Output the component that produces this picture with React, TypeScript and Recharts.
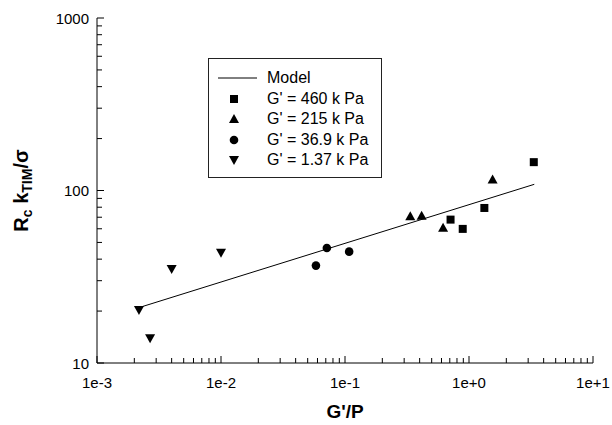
import React from 'react';
import { ScatterChart, Scatter, XAxis, YAxis, Legend, Label } from 'recharts';

// model curve end points
const modelX = [0.0023, 3.36];
const modelY = [21.2, 108.6];

// measured points, one pair of arrays per storage modulus
const g460X = [0.71, 0.89, 1.33, 3.33];
const g460Y = [67.8, 59.9, 79.2, 146];
const g215X = [0.336, 0.415, 0.618, 1.55];
const g215Y = [70.9, 71.3, 60.8, 115.7];
const g369X = [0.0583, 0.0714, 0.108];
const g369Y = [36.7, 46.4, 44.2];
const g137X = [0.00218, 0.00268, 0.004, 0.01];
const g137Y = [20.3, 13.9, 35.1, 43.6];

const seriesNames = ['Model', "G' = 460 k Pa", "G' = 215 k Pa", "G' = 36.9 k Pa", "G' = 1.37 k Pa"];

const xMajor = [0.001, 0.01, 0.1, 1, 10];
const xLabels = ['1e-3', '1e-2', '1e-1', '1e+0', '1e+1'];
const yMajor = [10, 100, 1000];
const yLabels = ['10', '100', '1000'];
const minorSteps = [2, 3, 4, 5, 6, 7, 8, 9];

const xTicks = [...xMajor, ...xMajor.slice(0, -1).flatMap((d) => minorSteps.map((m) => d * m))];
const yTicks = [...yMajor, ...yMajor.slice(0, -1).flatMap((d) => minorSteps.map((m) => d * m))];

const toPoints = (xs: number[], ys: number[]) => xs.map((x, i) => ({ x, y: ys[i] }));

const FONT = 'Arial, "Liberation Sans", sans-serif';
const MAJOR_LEN = 7;
const MINOR_LEN = 5;

const majorIndex = (list: number[], v: number) => list.findIndex((m) => Math.abs(m - v) / m < 1e-6);

const BottomTick = ({ x, y, payload }: any) => {
  const i = majorIndex(xMajor, payload.value);
  return (
    <g>
      <line x1={x} x2={x} y1={y} y2={y - (i >= 0 ? MAJOR_LEN : MINOR_LEN)} stroke="#000" />
      {i >= 0 && (
        <text x={x} y={y + 25} textAnchor="middle" fontSize={15} fontFamily={FONT} fill="#000">
          {xLabels[i]}
        </text>
      )}
    </g>
  );
};

const TopTick = ({ x, y, payload }: any) => {
  const i = majorIndex(xMajor, payload.value);
  return <line x1={x} x2={x} y1={y} y2={y + (i >= 0 ? MAJOR_LEN : MINOR_LEN)} stroke="#000" />;
};

const LeftTick = ({ x, y, payload }: any) => {
  const i = majorIndex(yMajor, payload.value);
  return (
    <g>
      <line x1={x} x2={x + (i >= 0 ? MAJOR_LEN : MINOR_LEN)} y1={y} y2={y} stroke="#000" />
      {i >= 0 && (
        <text x={x - 8} y={y + 5.5} textAnchor="end" fontSize={15} fontFamily={FONT} fill="#000">
          {yLabels[i]}
        </text>
      )}
    </g>
  );
};

const RightTick = ({ x, y, payload }: any) => {
  const i = majorIndex(yMajor, payload.value);
  return <line x1={x} x2={x - (i >= 0 ? MAJOR_LEN : MINOR_LEN)} y1={y} y2={y} stroke="#000" />;
};

const Square = ({ cx, cy }: any) => <rect x={cx - 4} y={cy - 4} width={8} height={8} fill="#000" />;
const Dot = ({ cx, cy }: any) => <circle cx={cx} cy={cy} r={4.3} fill="#000" />;
const TriUp = ({ cx, cy }: any) => (
  <path d={`M${cx},${cy - 5} L${cx + 5},${cy + 4} L${cx - 5},${cy + 4} Z`} fill="#000" />
);
const TriDown = ({ cx, cy }: any) => (
  <path d={`M${cx - 5},${cy - 4} L${cx + 5},${cy - 4} L${cx},${cy + 5} Z`} fill="#000" />
);
const NoShape = () => <g />;

const legendIcons = [
  <line x1={0} x2={39} y1={7} y2={7} stroke="#000" />,
  <Square cx={16} cy={7} />,
  <TriUp cx={16} cy={7} />,
  <Dot cx={16} cy={7} />,
  <TriDown cx={16} cy={7} />,
];

const LegendBox = () => (
  <div
    style={{
      width: 174,
      height: 120,
      boxSizing: 'border-box',
      border: '1px solid #222',
      background: '#fff',
      paddingTop: 9,
      fontFamily: FONT,
      fontSize: 16,
      color: '#000',
    }}
  >
    {seriesNames.map((name, i) => (
      <div key={name} style={{ display: 'flex', alignItems: 'center', height: 20.5 }}>
        <svg width={39} height={14} style={{ marginLeft: 9, marginRight: 10 }}>
          {legendIcons[i]}
        </svg>
        <span>{name}</span>
      </div>
    ))}
  </div>
);

const YTitle = ({ viewBox }: any) => {
  const cx = viewBox.x + 28;
  const cy = viewBox.y + viewBox.height / 2;
  return (
    <text
      x={cx}
      y={cy}
      transform={`rotate(-90, ${cx}, ${cy})`}
      textAnchor="middle"
      fontFamily={FONT}
      fontWeight="bold"
      fontSize={20}
      fill="#000"
    >
      <tspan>R</tspan>
      <tspan fontSize={14} dy={4}>c</tspan>
      <tspan dy={-4}> k</tspan>
      <tspan fontSize={14} dy={4}>TIM</tspan>
      <tspan dy={-4}>/σ</tspan>
    </text>
  );
};

export default function App() {
  const axisCommon = {
    type: 'number' as const,
    scale: 'log' as const,
    allowDataOverflow: true,
    tickLine: false,
    tickSize: 0,
    tickMargin: 0,
    interval: 0 as const,
    axisLine: { stroke: '#000' },
  };

  return (
    <div style={{ position: 'absolute', left: 0, top: 0, background: '#fff' }}>
      <ScatterChart width={612} height={425} margin={{ top: 18, right: 19, bottom: 0, left: 0 }}>
        <XAxis
          {...axisCommon}
          xAxisId="main"
          dataKey="x"
          domain={[0.001, 10]}
          ticks={xTicks}
          height={62}
          tick={<BottomTick />}
        >
          <Label
            value="G'/P"
            position="insideBottom"
            offset={7}
            style={{ fontFamily: FONT, fontWeight: 'bold', fontSize: 19, fill: '#000' }}
          />
        </XAxis>
        <XAxis
          {...axisCommon}
          xAxisId="top"
          orientation="top"
          dataKey="x"
          domain={[0.001, 10]}
          ticks={xTicks}
          height={0}
          tick={<TopTick />}
        />
        <YAxis
          {...axisCommon}
          yAxisId="main"
          dataKey="y"
          domain={[10, 1000]}
          ticks={yTicks}
          width={97}
          tick={<LeftTick />}
        >
          <Label content={<YTitle />} />
        </YAxis>
        <YAxis
          {...axisCommon}
          yAxisId="right"
          orientation="right"
          dataKey="y"
          domain={[10, 1000]}
          ticks={yTicks}
          width={0}
          tick={<RightTick />}
        />
        <Legend
          layout="vertical"
          align="center"
          verticalAlign="middle"
          content={<LegendBox />}
          wrapperStyle={{ left: 208, top: 58, width: 174, height: 120 }}
        />
        <Scatter
          name={seriesNames[0]}
          xAxisId="main"
          yAxisId="main"
          data={toPoints(modelX, modelY)}
          line={{ stroke: '#000', strokeWidth: 1 }}
          shape={<NoShape />}
          isAnimationActive={false}
        />
        <Scatter name={seriesNames[1]} xAxisId="main" yAxisId="main" data={toPoints(g460X, g460Y)} shape={<Square />} isAnimationActive={false} />
        <Scatter name={seriesNames[2]} xAxisId="main" yAxisId="main" data={toPoints(g215X, g215Y)} shape={<TriUp />} isAnimationActive={false} />
        <Scatter name={seriesNames[3]} xAxisId="main" yAxisId="main" data={toPoints(g369X, g369Y)} shape={<Dot />} isAnimationActive={false} />
        <Scatter name={seriesNames[4]} xAxisId="main" yAxisId="main" data={toPoints(g137X, g137Y)} shape={<TriDown />} isAnimationActive={false} />
      </ScatterChart>
    </div>
  );
}
